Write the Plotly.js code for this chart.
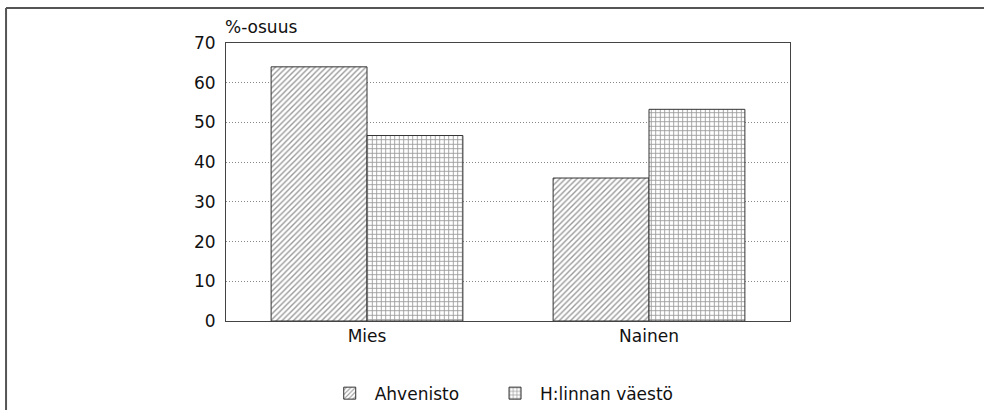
<!DOCTYPE html>
<html>
<head>
<meta charset="utf-8">
<script src="https://cdn.plot.ly/plotly-3.0.1.min.js"></script>
<style>
  html, body { margin: 0; padding: 0; background: #fff; }
  #chart { width: 984px; height: 410px; }
</style>
</head>
<body>
<div id="chart"></div>
<script>
const categories = ["Mies", "Nainen"];
const seriesNames = ["Ahvenisto", "H:linnan väestö"];
const ahvenisto = [64, 36];
const hlinna = [46.7, 53.3];
const yTicks = [0, 10, 20, 30, 40, 50, 60, 70];
const yAxisLabel = "%-osuus";

const font = "DejaVu Sans, Liberation Sans, sans-serif";
const ink = "#111";

const traces = [
  {
    type: "bar", name: seriesNames[0], x: categories, y: ahvenisto, legend: "legend",
    marker: {
      color: "#fff",
      line: { color: "#333", width: 1 },
      pattern: { shape: "/", fgcolor: "#333", bgcolor: "#fff", size: 4, solidity: 0.35, fillmode: "overlay" }
    },
    hoverinfo: "skip"
  },
  {
    type: "bar", name: seriesNames[1], x: categories, y: hlinna, legend: "legend2",
    marker: {
      color: "#fff",
      line: { color: "#333", width: 1 },
      pattern: { shape: "+", fgcolor: "#333", bgcolor: "#fff", size: 4.5, solidity: 0.35, fillmode: "overlay" }
    },
    hoverinfo: "skip"
  }
];

const legendBase = {
  orientation: "h",
  xref: "container", yref: "container",
  xanchor: "left", y: 0.04, yanchor: "middle",
  font: { family: font, size: 17, color: ink },
  itemwidth: 40
};

const layout = {
  width: 984, height: 410,
  margin: { l: 226, r: 194, t: 43, b: 89 },
  paper_bgcolor: "#fff", plot_bgcolor: "#fff",
  font: { family: font, size: 17, color: ink },
  barmode: "group",
  bargap: 0.32,
  bargroupgap: 0,
  showlegend: true,
  legend: Object.assign({}, legendBase, { x: 0.330 }),
  legend2: Object.assign({}, legendBase, { x: 0.498 }),
  xaxis: {
    type: "category",
    showline: true, linecolor: "#444", linewidth: 1, mirror: true,
    ticks: "", showgrid: false, zeroline: false,
    tickfont: { family: font, size: 17, color: ink }
  },
  yaxis: {
    range: [0, 70], tickvals: yTicks,
    showline: true, linecolor: "#444", linewidth: 1, mirror: true,
    showgrid: true, gridcolor: "#888", griddash: "1px,2px", gridwidth: 1,
    zeroline: false, ticks: "", ticklabelstandoff: 6,
    tickfont: { family: font, size: 17, color: ink }
  },
  annotations: [
    {
      text: yAxisLabel, xref: "paper", yref: "paper",
      x: 0, y: 1, xanchor: "left", yanchor: "bottom", yshift: 4, xshift: -3,
      showarrow: false, font: { family: font, size: 17, color: ink }
    }
  ],
  shapes: [
    { type: "line", xref: "paper", yref: "paper", x0: -0.39, x1: 1.36, y0: 1.126, y1: 1.126, line: { color: "#555", width: 2 } },
    { type: "line", xref: "paper", yref: "paper", x0: -0.39, x1: -0.39, y0: 1.126, y1: -0.33, line: { color: "#555", width: 2 } }
  ]
};

Plotly.newPlot("chart", traces, layout, { displayModeBar: false, staticPlot: true });
</script>
</body>
</html>
